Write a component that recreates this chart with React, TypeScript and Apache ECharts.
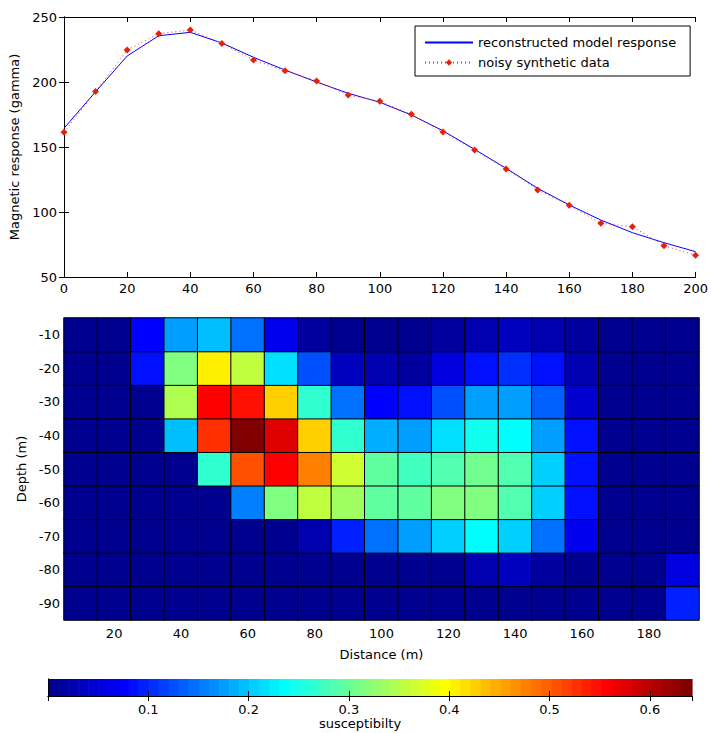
import React, { useEffect, useRef } from "react";
import * as echarts from "echarts";

// ---- Magnetic profile (top panel) ----
const distances = [0, 10, 20, 30, 40, 50, 60, 70, 80, 90, 100, 110, 120, 130, 140, 150, 160, 170, 180, 190, 200];
const modelResponse = [164.4, 192.5, 220.0, 235.6, 238.2, 230.0, 219.0, 209.2, 200.0, 191.3, 184.4, 174.6, 162.5, 148.2, 133.6, 118.2, 105.4, 93.8, 84.1, 76.4, 69.5];
const noisyData = [161.3, 192.6, 224.6, 237.2, 240.0, 229.7, 217.0, 208.7, 200.8, 190.0, 185.1, 175.1, 161.5, 147.7, 133.1, 117.0, 105.1, 91.3, 88.7, 74.1, 66.7];

// ---- Susceptibility model (bottom panel), one array per depth row ----
const cellDistances = [10, 20, 30, 40, 50, 60, 70, 80, 90, 100, 110, 120, 130, 140, 150, 160, 170, 180, 190];
const depthLabels = [-90, -80, -70, -60, -50, -40, -30, -20, -10];
const suscDepth10 = [0.005, 0.005, 0.075, 0.175, 0.2, 0.145, 0.065, 0.02, 0.008, 0.008, 0.006, 0.015, 0.025, 0.035, 0.025, 0.015, 0.006, 0.005, 0.005];
const suscDepth20 = [0.005, 0.005, 0.09, 0.32, 0.41, 0.355, 0.22, 0.125, 0.035, 0.03, 0.015, 0.06, 0.09, 0.11, 0.085, 0.025, 0.006, 0.005, 0.005];
const suscDepth30 = [0.005, 0.005, 0.005, 0.345, 0.56, 0.55, 0.425, 0.265, 0.145, 0.078, 0.085, 0.13, 0.175, 0.175, 0.14, 0.045, 0.006, 0.005, 0.005];
const suscDepth40 = [0.005, 0.005, 0.005, 0.2, 0.53, 0.64, 0.575, 0.425, 0.265, 0.19, 0.18, 0.215, 0.248, 0.24, 0.18, 0.082, 0.006, 0.005, 0.005];
const suscDepth50 = [0.005, 0.005, 0.005, 0.005, 0.27, 0.51, 0.56, 0.48, 0.37, 0.295, 0.275, 0.29, 0.31, 0.29, 0.21, 0.09, 0.006, 0.005, 0.005];
const suscDepth60 = [0.005, 0.005, 0.005, 0.005, 0.005, 0.16, 0.32, 0.36, 0.333, 0.295, 0.297, 0.318, 0.32, 0.29, 0.21, 0.085, 0.006, 0.005, 0.005];
const suscDepth70 = [0.005, 0.005, 0.005, 0.005, 0.005, 0.006, 0.008, 0.025, 0.095, 0.145, 0.175, 0.21, 0.24, 0.21, 0.15, 0.065, 0.006, 0.005, 0.005];
const suscDepth80 = [0.005, 0.005, 0.005, 0.005, 0.005, 0.005, 0.005, 0.005, 0.005, 0.005, 0.005, 0.005, 0.03, 0.04, 0.02, 0.008, 0.005, 0.005, 0.055];
const suscDepth90 = [0.005, 0.005, 0.005, 0.005, 0.005, 0.005, 0.005, 0.005, 0.005, 0.005, 0.005, 0.005, 0.005, 0.005, 0.005, 0.005, 0.005, 0.005, 0.095];
// rows listed bottom (-90) to top (-10), matching depthLabels
const suscRows = [suscDepth90, suscDepth80, suscDepth70, suscDepth60, suscDepth50, suscDepth40, suscDepth30, suscDepth20, suscDepth10];

// ---- Colour scale ----
const colorMin = 0;
const colorMax = 0.642;
const colorbarTicks = [0.1, 0.2, 0.3, 0.4, 0.5, 0.6];
const colorLevels = 64;

// MATLAB-style "jet" colour map with m entries
function jetColormap(m: number): string[] {
  const n = Math.ceil(m / 4);
  const u: number[] = [];
  for (let i = 1; i <= n; i++) u.push(i / n);
  for (let i = 0; i < n - 1; i++) u.push(1);
  for (let i = n; i >= 1; i--) u.push(i / n);
  const shift = Math.ceil(n / 2) - (m % 4 === 1 ? 1 : 0);
  const rgb = Array.from({ length: m }, () => [0, 0, 0]);
  u.forEach((val, k) => {
    const g = shift + k + 1;
    const r = g + n;
    const b = g - n;
    if (g >= 1 && g <= m) rgb[g - 1][1] = val;
    if (r >= 1 && r <= m) rgb[r - 1][0] = val;
    if (b >= 1 && b <= m) rgb[b - 1][2] = val;
  });
  const hex = (v: number) => Math.round(v * 255).toString(16).padStart(2, "0");
  return rgb.map(([r, g, b]) => "#" + hex(r) + hex(g) + hex(b));
}

const FONT = "DejaVu Sans";
const TEXT = { fontFamily: FONT, fontSize: 13, color: "#000" };

export default function App() {
  const ref = useRef<HTMLDivElement>(null);

  useEffect(() => {
    if (!ref.current) return;
    const chart = echarts.init(ref.current, undefined, { renderer: "svg" });

    const jet = jetColormap(colorLevels);
    const step = (colorMax - colorMin) / colorLevels;
    const pieces = jet.map((color, i) =>
      i === colorLevels - 1
        ? { gte: colorMin + i * step, lte: colorMax + 1, color }
        : { gte: colorMin + i * step, lt: colorMin + (i + 1) * step, color }
    );

    const heatData: number[][] = [];
    suscRows.forEach((row, yi) => row.forEach((v, xi) => heatData.push([xi, yi, v])));

    const colorbarData = jet.map((_, i) => [colorMin + (i + 0.5) * step, 0.5, i]);

    const axisLineBlack = { show: true, lineStyle: { color: "#000", width: 1 } };
    const insideTicks = { show: true, inside: true, length: 5, lineStyle: { color: "#000" } };

    const option: any = {
      animation: false,
      backgroundColor: "#fff",
      textStyle: { fontFamily: FONT },
      grid: [
        { left: 64, top: 17, width: 634, height: 260 },
        { left: 64, top: 318, width: 635, height: 302 },
        { left: 48, top: 679, width: 644, height: 17 },
      ],
      legend: {
        show: true,
        data: [
          { name: "reconstructed model response", itemStyle: { opacity: 0 } },
          { name: "noisy synthetic data" },
        ],
        orient: "vertical",
        left: 415,
        top: 26,
        padding: [10, 14, 7, 9],
        itemGap: 7,
        itemWidth: 48,
        itemHeight: 8,
        borderColor: "#000",
        borderWidth: 1,
        backgroundColor: "#fff",
        textStyle: { ...TEXT },
      },
      visualMap: {
        type: "piecewise",
        show: false,
        seriesIndex: 2,
        dimension: 2,
        pieces,
      },
      xAxis: [
        {
          gridIndex: 0, type: "value", position: "bottom", min: 0, max: 200, interval: 20,
          axisLine: axisLineBlack, axisTick: insideTicks, splitLine: { show: false },
          axisLabel: { ...TEXT, margin: 5 },
        },
        {
          gridIndex: 0, type: "value", position: "top", min: 0, max: 200, interval: 20,
          axisLine: axisLineBlack, axisTick: insideTicks, splitLine: { show: false },
          axisLabel: { show: false },
        },
        {
          gridIndex: 1, type: "category", position: "bottom", data: cellDistances.map(String),
          axisLine: { show: false }, axisTick: { show: false }, splitLine: { show: false },
          axisLabel: { ...TEXT, margin: 7, interval: (i: number) => i % 2 === 1 },
          name: "Distance (m)", nameLocation: "middle", nameGap: 28,
          nameTextStyle: { ...TEXT },
        },
        {
          gridIndex: 2, type: "value", position: "bottom", min: colorMin, max: colorMax, interval: 0.1,
          axisLine: axisLineBlack, axisTick: insideTicks, splitLine: { show: false }, z: 5,
          axisLabel: {
            ...TEXT, margin: 7, showMinLabel: false, showMaxLabel: false,
            formatter: (v: number) => (colorbarTicks.some((t) => Math.abs(t - v) < 1e-6) ? v.toFixed(1) : ""),
          },
          name: "susceptibilty", nameLocation: "middle", nameGap: 21,
          nameTextStyle: { ...TEXT, padding: [0, 20, 0, 0] },
        },
        {
          gridIndex: 2, type: "value", position: "top", min: colorMin, max: colorMax, interval: 0.1,
          axisLine: axisLineBlack, axisTick: insideTicks, splitLine: { show: false }, z: 5,
          axisLabel: { show: false },
        },
      ],
      yAxis: [
        {
          gridIndex: 0, type: "value", position: "left", min: 50, max: 250, interval: 50,
          axisLine: axisLineBlack, axisTick: insideTicks, splitLine: { show: false },
          axisLabel: { ...TEXT, margin: 7 },
          name: "Magnetic response (gamma)", nameLocation: "middle", nameGap: 37,
          nameTextStyle: { ...TEXT },
        },
        {
          gridIndex: 0, type: "value", position: "right", min: 50, max: 250, interval: 50,
          axisLine: axisLineBlack, axisTick: insideTicks, splitLine: { show: false },
          axisLabel: { show: false },
        },
        {
          gridIndex: 1, type: "category", position: "left", data: depthLabels.map(String),
          axisLine: { show: false }, axisTick: { show: false }, splitLine: { show: false },
          axisLabel: { ...TEXT, margin: 4 },
          name: "Depth (m)", nameLocation: "middle", nameGap: 33,
          nameTextStyle: { ...TEXT },
        },
        {
          gridIndex: 2, type: "value", position: "left", min: 0, max: 1,
          axisLine: axisLineBlack, axisTick: { show: false }, axisLabel: { show: false },
          splitLine: { show: false }, z: 5,
        },
        {
          gridIndex: 2, type: "value", position: "right", min: 0, max: 1,
          axisLine: axisLineBlack, axisTick: { show: false }, axisLabel: { show: false },
          splitLine: { show: false }, z: 5,
        },
      ],
      series: [
        {
          name: "reconstructed model response",
          type: "line",
          xAxisIndex: 0,
          yAxisIndex: 0,
          data: distances.map((d, i) => [d, modelResponse[i]]),
          symbol: "none",
          lineStyle: { color: "#0000ff", width: 1 },
          itemStyle: { color: "#0000ff" },
          z: 3,
        },
        {
          name: "noisy synthetic data",
          type: "line",
          xAxisIndex: 0,
          yAxisIndex: 0,
          data: distances.map((d, i) => [d, noisyData[i]]),
          symbol: "diamond",
          symbolSize: 7,
          lineStyle: { color: "#ff2a1a", width: 1, type: [1, 3] },
          itemStyle: { color: "#e8200a" },
          z: 4,
        },
        {
          name: "susceptibility",
          type: "heatmap",
          xAxisIndex: 2,
          yAxisIndex: 2,
          data: heatData,
          itemStyle: { borderColor: "#000", borderWidth: 1 },
          emphasis: { disabled: true },
        },
        {
          name: "colour scale",
          type: "custom",
          xAxisIndex: 3,
          yAxisIndex: 3,
          data: colorbarData,
          silent: true,
          renderItem: (_params: any, api: any) => {
            const i = api.value(2);
            const p0 = api.coord([colorMin + i * step, 0]);
            const p1 = api.coord([colorMin + (i + 1) * step, 1]);
            return {
              type: "rect",
              shape: { x: p0[0], y: p1[1], width: p1[0] - p0[0] + 0.6, height: p0[1] - p1[1] },
              style: { fill: jet[i] },
            };
          },
        },
      ],
    };

    chart.setOption(option);
    return () => chart.dispose();
  }, []);

  return (
    <div
      ref={ref}
      style={{ position: "fixed", left: 0, top: 0, width: 711, height: 733, background: "#fff" }}
    />
  );
}
